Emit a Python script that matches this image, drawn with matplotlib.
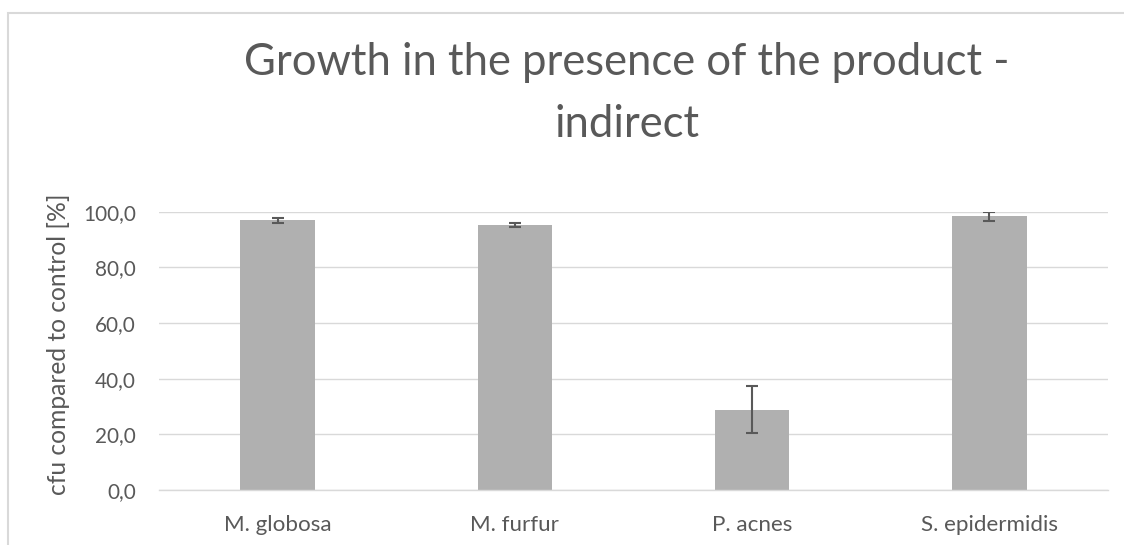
import matplotlib
matplotlib.use("Agg")
import matplotlib.pyplot as plt
from matplotlib.patches import Rectangle
from matplotlib.ticker import FuncFormatter

categories = ["M. globosa", "M. furfur", "P. acnes", "S. epidermidis"]
values = [96.9, 95.2, 28.9, 98.3]
errors = [0.9, 0.6, 8.3, 1.6]
yticks = [0, 20, 40, 60, 80, 100]
title_lines = ["Growth in the presence of the product -", "indirect"]
ylabel = "cfu compared to control [%]"

plt.rcParams['font.family'] = ['Lato', 'DejaVu Sans']
TXT = '#595959'
W, H = 1124, 545
fig = plt.figure(figsize=(W / 100, H / 100), dpi=100)
fig.patch.set_facecolor('white')
renderer = fig.canvas.get_renderer()


def fit_size(s, target_px, base=20, **kw):
    t = fig.text(0, 0, s, fontsize=base, **kw)
    w = t.get_window_extent(renderer).width
    t.remove()
    return base * target_px / w


# chart frame (only left and top edges are inside the picture)
fig.add_artist(Rectangle((7.5 / W, -0.1), 1.2, (H - 13) / H + 0.1, transform=fig.transFigure,
                         fill=False, edgecolor='#d9d9d9', linewidth=1.5))

left, right = 159 / W, 1108 / W
bottom, top = (H - 490) / H, (H - 211.7) / H
ax = fig.add_axes([left, bottom, right - left, top - bottom])

x = list(range(len(categories)))
ax.bar(x, values, width=0.315, color='#b0b0b0', zorder=2)
ax.errorbar(x, values, yerr=errors, fmt='none', ecolor=TXT, elinewidth=1.5,
            capsize=4.3, capthick=1.5, zorder=3)

tick_fs = fit_size("100,0", 53)
cat_fs = fit_size("S. epidermidis", 137)
lab_fs = fit_size(ylabel, 302)

ax.set_xlim(-0.5, len(categories) - 0.5)
ax.set_ylim(0, 100)
ax.set_yticks(yticks)
ax.yaxis.set_major_formatter(FuncFormatter(lambda v, p: f"{v:.1f}".replace('.', ',')))
ax.set_xticks(x)
ax.set_xticklabels(categories)
ax.grid(axis='y', color='#d9d9d9', linewidth=1.0, zorder=0)
ax.set_axisbelow(True)
for s in ['top', 'right', 'left']:
    ax.spines[s].set_visible(False)
ax.spines['bottom'].set_color('#d9d9d9')
ax.spines['bottom'].set_linewidth(1.0)
ax.tick_params(axis='both', length=0, colors=TXT)
ax.tick_params(axis='y', labelsize=tick_fs, pad=16.5)
ax.tick_params(axis='x', labelsize=cat_fs, pad=18)

fig.text(58.5 / W, (H - 344) / H, ylabel, rotation=90, ha='center', va='center',
         fontsize=lab_fs, color=TXT)

title_fs = fit_size(title_lines[0], 769)
fig.text(627 / W, (H - 75) / H, title_lines[0], ha='center', va='baseline',
         fontsize=title_fs, color=TXT)
fig.text(627 / W, (H - 137) / H, title_lines[1], ha='center', va='baseline',
         fontsize=title_fs, color=TXT)

fig.savefig("out.png", dpi=100)
